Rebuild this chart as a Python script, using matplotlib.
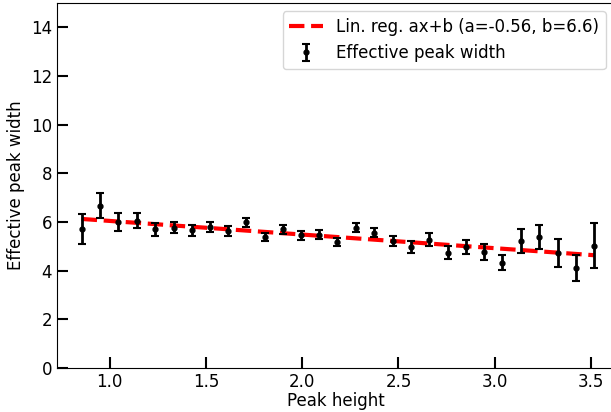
import numpy as np
import matplotlib.pyplot as plt

# peak heights
heights = [0.854, 0.948, 1.042, 1.140, 1.234, 1.333, 1.427, 1.520, 1.615, 1.708,
           1.807, 1.900, 1.995, 2.089, 2.182, 2.281, 2.375, 2.469, 2.563, 2.660,
           2.755, 2.849, 2.943, 3.040, 3.135, 3.229, 3.328, 3.422, 3.516]

# effective peak widths
widths = [5.71, 6.67, 6.01, 6.05, 5.70, 5.77, 5.66, 5.79, 5.63, 5.98,
          5.38, 5.70, 5.45, 5.48, 5.18, 5.77, 5.55, 5.23, 4.96, 5.27,
          4.74, 4.96, 4.77, 4.32, 5.23, 5.38, 4.73, 4.11, 5.03]

errors = [0.60, 0.53, 0.37, 0.32, 0.27, 0.24, 0.22, 0.20, 0.19, 0.19,
          0.16, 0.18, 0.18, 0.18, 0.17, 0.19, 0.18, 0.21, 0.24, 0.27,
          0.25, 0.29, 0.34, 0.31, 0.49, 0.50, 0.58, 0.54, 0.92]

a, b = -0.56, 6.6

plt.rcParams["font.size"] = 12

fig = plt.figure(figsize=(6.11, 4.12), dpi=100)
ax = fig.add_axes([0.093, 0.107, 0.912, 0.886])

x = np.array(heights)
ax.plot(x, a * x + b, "r--", lw=3,
        label="Lin. reg. ax+b (a=-0.56, b=6.6)")

ax.errorbar(heights, widths, yerr=errors, fmt="o", color="black",
            markersize=3.5, elinewidth=2, capsize=3, capthick=1.5,
            label="Effective peak width")

ax.set_xlim(0.725, 3.62)
ax.set_ylim(0, 15)
ax.set_yticks(range(0, 15, 2))
ax.set_xticks([1.0, 1.5, 2.0, 2.5, 3.0, 3.5])
ax.tick_params(direction="in", length=8, width=1.5)

ax.set_xlabel("Peak height", labelpad=1)
ax.set_ylabel("Effective peak width")

ax.legend(loc="upper right")

fig.savefig("out.png", dpi=100)
